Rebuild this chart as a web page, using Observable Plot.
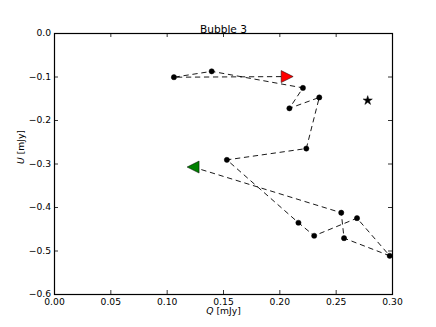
<!DOCTYPE html>
<html><head><meta charset="utf-8">
<script src="https://cdn.jsdelivr.net/npm/d3@7"></script>
<script src="https://cdn.jsdelivr.net/npm/@observablehq/plot@0.6"></script>
<style>body{margin:0;background:#fff;}</style>
</head><body><div id="chart"></div>
<script>
const title = "Bubble 3";
const qValues = [0.123, 0.2545, 0.257, 0.2975, 0.2685, 0.2305, 0.2165, 0.153, 0.2235, 0.235, 0.2085, 0.2205, 0.1395, 0.106, 0.2065];
const uValues = [-0.307, -0.412, -0.4705, -0.511, -0.4245, -0.465, -0.435, -0.2905, -0.2645, -0.147, -0.172, -0.125, -0.087, -0.1005, -0.099];
const starQ = [0.278];
const starU = [-0.154];
const xTicks = [0, 0.05, 0.10, 0.15, 0.20, 0.25, 0.30];
const yTicks = [0, -0.1, -0.2, -0.3, -0.4, -0.5, -0.6];
const xLabel = "Q [mJy]";
const yLabel = "U [mJy]";

const path = qValues.map((q, i) => ({q, u: uValues[i]}));
const star = starQ.map((q, i) => ({q, u: starU[i]}));

const triRight = {draw(ctx, size) { const s = Math.sqrt(size / Math.PI); ctx.moveTo(s, 0); ctx.lineTo(-s, -s); ctx.lineTo(-s, s); ctx.closePath(); }};
const triLeft = {draw(ctx, size) { const s = Math.sqrt(size / Math.PI); ctx.moveTo(-s, 0); ctx.lineTo(s, -s); ctx.lineTo(s, s); ctx.closePath(); }};

const W = 436, H = 327, mL = 54, mR = 44, mT = 33, mB = 33;
const fw = W - mL - mR, fh = H - mT - mB;
const tl = 4;

const chart = Plot.plot({
  width: W, height: H,
  marginLeft: mL, marginRight: mR, marginTop: mT, marginBottom: mB,
  style: {fontFamily: "DejaVu Sans", fontSize: "9px", background: "#fff", color: "black"},
  x: {domain: [0, 0.3]},
  y: {domain: [-0.6, 0]},
  marks: [
    Plot.ruleX(xTicks, {x: d => d, insetTop: fh - tl, stroke: "black", strokeWidth: 0.8}),
    Plot.ruleX(xTicks, {x: d => d, insetBottom: fh - tl, stroke: "black", strokeWidth: 0.8}),
    Plot.ruleY(yTicks, {y: d => d, insetRight: fw - tl, stroke: "black", strokeWidth: 0.8}),
    Plot.ruleY(yTicks, {y: d => d, insetLeft: fw - tl, stroke: "black", strokeWidth: 0.8}),
    Plot.axisX({ticks: xTicks, tickSize: 0, tickPadding: 3.5, tickFormat: d => d.toFixed(2), label: null, fontSize: 9.2}),
    Plot.axisY({ticks: yTicks, tickSize: 0, tickPadding: 3.5, tickFormat: d => d === 0 ? "0.0" : "\u2212" + Math.abs(d).toFixed(1), label: null, fontSize: 9.2}),
    Plot.line(path, {x: "q", y: "u", stroke: "black", strokeWidth: 0.9, strokeDasharray: "4.5,4.5"}),
    Plot.dot(path.slice(1, -1), {x: "q", y: "u", r: 2.6, fill: "black", stroke: "black", strokeWidth: 0.5}),
    Plot.dot(path.slice(0, 1), {x: "q", y: "u", r: 6, symbol: triLeft, fill: "#008000", stroke: "black", strokeWidth: 0.5}),
    Plot.dot(path.slice(-1), {x: "q", y: "u", r: 6, symbol: triRight, fill: "#ff0000", stroke: "black", strokeWidth: 0.5}),
    Plot.dot(star, {x: "q", y: "u", r: 2.9, symbol: "star", fill: "black", stroke: "black", strokeWidth: 0.5}),
    Plot.frame({stroke: "black", strokeWidth: 1.2}),
    Plot.text([title], {text: d => d, frameAnchor: "top", dy: -8.5, fontSize: 10.6}),
    Plot.text([xLabel], {text: d => d, frameAnchor: "bottom", dy: 19.5, fontSize: 9.2}),
    Plot.text([yLabel], {text: d => d, frameAnchor: "left", dx: -33.5, rotate: -90, fontSize: 9.2})
  ]
});

chart.querySelectorAll("text").forEach(t => {
  const s = t.textContent;
  if (s === xLabel || s === yLabel) {
    t.textContent = "";
    const ns = "http://www.w3.org/2000/svg";
    const a = document.createElementNS(ns, "tspan");
    a.setAttribute("font-style", "italic");
    a.textContent = s[0];
    const b = document.createElementNS(ns, "tspan");
    b.textContent = s.slice(1);
    t.appendChild(a); t.appendChild(b);
  }
});

document.getElementById("chart").appendChild(chart);
</script>
</body></html>
